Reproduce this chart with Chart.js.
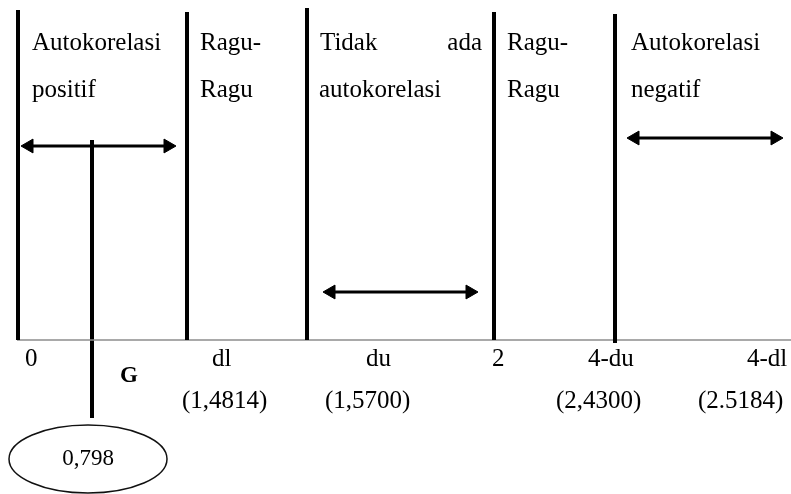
<!DOCTYPE html>
<html>
<head>
<meta charset="utf-8">
<script src="https://cdn.jsdelivr.net/npm/chart.js@4"></script>
<style>
  html, body { margin: 0; padding: 0; background: #fff; }
  #wrap { width: 791px; height: 494px; }
</style>
</head>
<body>
<div id="wrap"><canvas id="dwChart"></canvas></div>
<script>
// Durbin-Watson decision diagram (schematic units = diagram positions)

// ---------------- data ----------------
const boundaryX      = [18, 187, 307, 494, 615];
const boundaryTop    = [10, 12, 8, 12, 14];
const boundaryBottom = [340, 340, 340, 340, 343];

const axisY = 340;
const axisFrom = 17;
const axisTo = 791;

const dwMarkX = 92;
const dwMarkFrom = 140;
const dwMarkTo = 418;

// arrow head centres (tips sit a little further out)
const arrowFrom = [29, 331, 635];
const arrowTo   = [168, 470, 775];
const arrowY    = [146, 292, 138];

const zoneLabels = ["Autokorelasi", "positif", "Ragu-", "Ragu", "Tidak", "ada", "autokorelasi", "Ragu-", "Ragu", "Autokorelasi", "negatif"];
const zoneLabelX = [32, 32, 200, 200, 320, 482, 319, 507, 507, 631, 631];
const zoneLabelY = [50, 97, 50, 97, 50, 50, 97, 50, 97, 50, 97];
const zoneAlign  = ["left", "left", "left", "left", "left", "right", "left", "left", "left", "left", "left"];

const tickLabels = ["0", "dl", "du", "2", "4-du", "4-dl"];
const tickLabelX = [25, 212, 366, 492, 588, 747];
const tickLabelY = 366;

const criticalValues = ["(1,4814)", "(1,5700)", "(2,4300)", "(2.5184)"];
const criticalX = [182, 325, 556, 698];
const criticalY = 408;

const statName = "G";
const statNameX = 120;
const statNameY = 382;

const dwValue = "0,798";
const ellipseCenter = [88, 459];
const ellipseRadius = [79, 34];

// ---------------- datasets ----------------
const datasets = [];

boundaryX.forEach((x, i) => {
  datasets.push({
    data: [{ x: x, y: boundaryTop[i] }, { x: x, y: boundaryBottom[i] }],
    borderColor: '#000', borderWidth: 4, pointRadius: 0, showLine: true, borderCapStyle: 'butt'
  });
});

datasets.push({
  data: [{ x: axisFrom, y: axisY }, { x: axisTo, y: axisY }],
  borderColor: '#8c8c8c', borderWidth: 1.5, pointRadius: 0, showLine: true
});

datasets.push({
  data: [{ x: dwMarkX, y: dwMarkFrom }, { x: dwMarkX, y: dwMarkTo }],
  borderColor: '#000', borderWidth: 4, pointRadius: 0, showLine: true
});

arrowFrom.forEach((x0, i) => {
  datasets.push({
    data: [{ x: x0, y: arrowY[i] }, { x: arrowTo[i], y: arrowY[i] }],
    borderColor: '#000', backgroundColor: '#000', borderWidth: 3, showLine: true,
    pointStyle: 'triangle', pointRadius: 8, pointRotation: [-90, 90], pointBorderWidth: 1
  });
});

// ---------------- text + ellipse plugin ----------------
const serif = '"Liberation Serif", "Times New Roman", serif';

const annotations = {
  id: 'annotations',
  afterDatasetsDraw(chart) {
    const { ctx, scales: { x, y } } = chart;
    const put = (text, px, py, align, font) => {
      ctx.save();
      ctx.font = font || ('25px ' + serif);
      ctx.fillStyle = '#000';
      ctx.textAlign = align;
      ctx.textBaseline = 'alphabetic';
      ctx.fillText(text, x.getPixelForValue(px), y.getPixelForValue(py));
      ctx.restore();
    };

    zoneLabels.forEach((t, i) => put(t, zoneLabelX[i], zoneLabelY[i], zoneAlign[i]));
    tickLabels.forEach((t, i) => put(t, tickLabelX[i], tickLabelY, 'left'));
    criticalValues.forEach((t, i) => put(t, criticalX[i], criticalY, 'left'));
    put(statName, statNameX, statNameY, 'left', 'bold 23px ' + serif);

    // ellipse round the statistic value
    const cx = x.getPixelForValue(ellipseCenter[0]);
    const cy = y.getPixelForValue(ellipseCenter[1]);
    const rx = x.getPixelForValue(ellipseCenter[0] + ellipseRadius[0]) - cx;
    const ry = y.getPixelForValue(ellipseCenter[1] + ellipseRadius[1]) - cy;
    ctx.save();
    ctx.beginPath();
    ctx.ellipse(cx, cy, Math.abs(rx), Math.abs(ry), 0, 0, Math.PI * 2);
    ctx.lineWidth = 1.5;
    ctx.strokeStyle = '#111';
    ctx.stroke();
    ctx.restore();

    ctx.save();
    ctx.font = '23px ' + serif;
    ctx.fillStyle = '#000';
    ctx.textAlign = 'center';
    ctx.textBaseline = 'middle';
    ctx.fillText(dwValue, cx, cy);
    ctx.restore();
  }
};

// ---------------- chart ----------------
new Chart(document.getElementById('dwChart'), {
  type: 'scatter',
  data: { datasets: datasets },
  options: {
    responsive: true,
    maintainAspectRatio: false,
    animation: false,
    layout: { padding: 0, autoPadding: false },
    clip: false,
    plugins: { legend: { display: false }, tooltip: { enabled: false } },
    scales: {
      x: { type: 'linear', min: 0, max: 791, display: false },
      y: { type: 'linear', min: 0, max: 494, reverse: true, display: false }
    }
  },
  plugins: [annotations]
});
</script>
</body>
</html>
